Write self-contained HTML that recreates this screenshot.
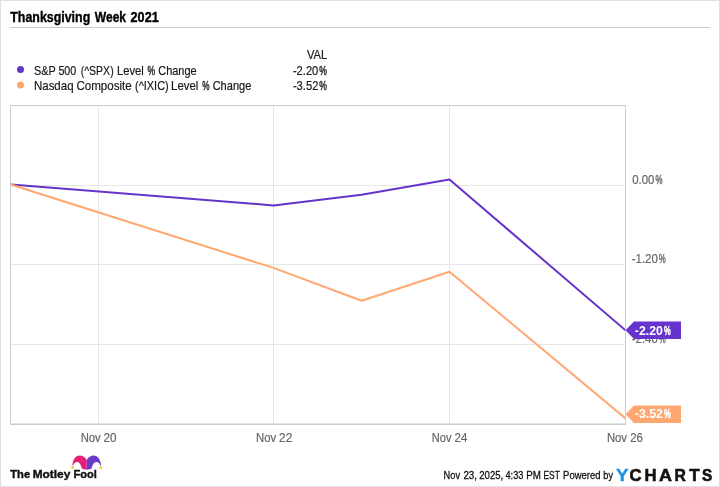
<!DOCTYPE html>
<html lang="en">
<head>
<meta charset="utf-8">
<title>Thanksgiving Week 2021</title>
<style>
html,body{margin:0;padding:0;background:#fff;}
body{width:720px;height:487px;overflow:hidden;}
svg{display:block;}
text{font-family:"Liberation Sans",sans-serif;white-space:pre;}
.ttl{font-size:15.5px;font-weight:bold;fill:#000;stroke:#000;stroke-width:0.4px;}
.t{font-size:12.4px;fill:#1a1a1a;stroke:#1a1a1a;stroke-width:0.2px;}
.ft{font-size:11.4px;fill:#111;stroke:#111;stroke-width:0.3px;}
.ax{font-size:12.4px;fill:#666;stroke:#666;stroke-width:0.2px;}
.fl{font-size:12.4px;font-weight:bold;fill:#fff;stroke:#fff;stroke-width:0;}
.mf{font-size:11.6px;font-weight:bold;fill:#111;stroke:#111;stroke-width:0.4px;}
.yc{font-size:17.25px;font-weight:bold;fill:#111;stroke:#111;stroke-width:0.6px;}
</style>
</head>
<body>
<svg width="720" height="487" viewBox="0 0 720 487">
  <rect x="0" y="0" width="720" height="487" fill="#fff"/>
  <rect x="0.5" y="0.5" width="719" height="486" fill="none" stroke="#e0e0e0" stroke-width="1"/>

  <!-- title -->
  <text class="ttl" y="21.5"><tspan x="10.26" textLength="79.97" lengthAdjust="spacingAndGlyphs">Thanksgiving</tspan> <tspan x="94.79" textLength="31.25" lengthAdjust="spacingAndGlyphs">Week</tspan> <tspan x="130.56" textLength="28.19" lengthAdjust="spacingAndGlyphs">2021</tspan></text>
  <rect x="10" y="27" width="700" height="1" fill="#ccc"/>

  <!-- legend -->
  <text class="t" y="59"><tspan x="306.95" textLength="20.30" lengthAdjust="spacingAndGlyphs">VAL</tspan></text>
  <circle cx="20.5" cy="69.5" r="3.5" fill="#6633cc"/>
  <text class="t" y="74.9"><tspan x="34.01" textLength="21.45" lengthAdjust="spacingAndGlyphs">S&amp;P</tspan> <tspan x="58.42" textLength="17.90" lengthAdjust="spacingAndGlyphs">500</tspan> <tspan x="80.70" textLength="32.95" lengthAdjust="spacingAndGlyphs">(^SPX)</tspan> <tspan x="116.93" textLength="26.82" lengthAdjust="spacingAndGlyphs">Level</tspan> <tspan x="147.42" textLength="7.66" lengthAdjust="spacingAndGlyphs" stroke-width="0.45">%</tspan> <tspan x="158.29" textLength="38.34" lengthAdjust="spacingAndGlyphs">Change</tspan></text>
  <text class="t" y="74.9"><tspan x="292.90" textLength="25.43" lengthAdjust="spacingAndGlyphs">-2.20</tspan><tspan x="319.32" textLength="7.66" lengthAdjust="spacingAndGlyphs" stroke-width="0.45">%</tspan></text>
  <circle cx="20.5" cy="85" r="3.5" fill="#ffa770"/>
  <text class="t" y="90"><tspan x="33.96" textLength="39.58" lengthAdjust="spacingAndGlyphs">Nasdaq</tspan> <tspan x="76.41" textLength="55.25" lengthAdjust="spacingAndGlyphs">Composite</tspan> <tspan x="135.02" textLength="33.66" lengthAdjust="spacingAndGlyphs">(^IXIC)</tspan> <tspan x="171.06" textLength="27.35" lengthAdjust="spacingAndGlyphs">Level</tspan> <tspan x="202.18" textLength="7.28" lengthAdjust="spacingAndGlyphs" stroke-width="0.45">%</tspan> <tspan x="212.64" textLength="38.75" lengthAdjust="spacingAndGlyphs">Change</tspan></text>
  <text class="t" y="90"><tspan x="292.90" textLength="25.56" lengthAdjust="spacingAndGlyphs">-3.52</tspan><tspan x="319.32" textLength="7.66" lengthAdjust="spacingAndGlyphs" stroke-width="0.45">%</tspan></text>

  <!-- grid -->
  <g stroke="#e6e6e6" stroke-width="1" shape-rendering="crispEdges">
    <line x1="98.5" y1="106" x2="98.5" y2="424"/>
    <line x1="273.5" y1="106" x2="273.5" y2="424"/>
    <line x1="449.5" y1="106" x2="449.5" y2="424"/>
    <line x1="11" y1="185.5" x2="625" y2="185.5"/>
    <line x1="11" y1="264.5" x2="625" y2="264.5"/>
    <line x1="11" y1="344.5" x2="625" y2="344.5"/>
  </g>

  <!-- axis labels -->
  <text class="ax" y="183.8"><tspan x="632.15" textLength="22.19" lengthAdjust="spacingAndGlyphs">0.00</tspan><tspan x="655.54" textLength="7.01" lengthAdjust="spacingAndGlyphs" stroke-width="0.45">%</tspan></text>
  <text class="ax" y="263.1"><tspan x="631.69" textLength="26.16" lengthAdjust="spacingAndGlyphs">-1.20</tspan><tspan x="658.96" textLength="6.69" lengthAdjust="spacingAndGlyphs" stroke-width="0.45">%</tspan></text>
  <text class="ax" y="342.5"><tspan x="631.69" textLength="26.16" lengthAdjust="spacingAndGlyphs">-2.40</tspan><tspan x="658.96" textLength="6.69" lengthAdjust="spacingAndGlyphs" stroke-width="0.45">%</tspan></text>
  <text class="ax" y="441.9"><tspan x="80.67" textLength="20.06" lengthAdjust="spacingAndGlyphs">Nov</tspan> <tspan x="103.51" textLength="13.10" lengthAdjust="spacingAndGlyphs">20</tspan></text>
  <text class="ax" y="441.9"><tspan x="255.97" textLength="20.17" lengthAdjust="spacingAndGlyphs">Nov</tspan> <tspan x="279.10" textLength="13.19" lengthAdjust="spacingAndGlyphs">22</tspan></text>
  <text class="ax" y="441.9"><tspan x="431.69" textLength="19.75" lengthAdjust="spacingAndGlyphs">Nov</tspan> <tspan x="454.52" textLength="12.82" lengthAdjust="spacingAndGlyphs">24</tspan></text>
  <text class="ax" y="441.9"><tspan x="606.92" textLength="20.12" lengthAdjust="spacingAndGlyphs">Nov</tspan> <tspan x="630.23" textLength="12.67" lengthAdjust="spacingAndGlyphs">26</tspan></text>

  <!-- series -->
  <clipPath id="plot"><rect x="11" y="106" width="614.5" height="318"/></clipPath>
  <g clip-path="url(#plot)" fill="none" stroke-width="2" stroke-linejoin="round">
    <polyline stroke="#6633cc" points="10.5,184.5 273.5,205.4 361.5,194.8 449.5,179.5 625.5,330.3"/>
    <polyline stroke="#ffa770" points="10.5,184.5 273.5,267.9 361.7,300.8 449.5,271.8 625.5,418.5"/>
  </g>
  <rect x="11" y="423" width="614" height="1" fill="#e2e2e2"/>
  <rect x="10.5" y="105.5" width="615" height="319" fill="none" stroke="#ccc" stroke-width="1" shape-rendering="crispEdges"/>

  <!-- flags -->
  <polygon fill="#6633cc" points="625.5,330.25 634,321.5 681,321.5 681,339 634,339"/>
  <text class="fl" y="334.75"><tspan x="634.82" textLength="28.09" lengthAdjust="spacingAndGlyphs">-2.20</tspan><tspan x="664.04" textLength="6.74" lengthAdjust="spacingAndGlyphs" stroke-width="0.45">%</tspan></text>
  <polygon fill="#ffa770" points="625.5,414.25 634,405.5 681,405.5 681,423 634,423"/>
  <text class="fl" y="418.0"><tspan x="634.82" textLength="28.07" lengthAdjust="spacingAndGlyphs">-3.52</tspan><tspan x="664.04" textLength="6.74" lengthAdjust="spacingAndGlyphs" stroke-width="0.45">%</tspan></text>

  <!-- footer: The Motley Fool -->
  <path d="M86.7,459.9 C85.2,457.3 82.6,455.6 79.6,455.6 C75.3,455.6 72.9,460 72.3,465.2 L73.2,465.2 C74,463.1 75.4,462 77.1,462 C79.8,462 80.9,465.4 81.8,468.3 C83,469.3 84.8,469.7 86.7,469.7 Z" fill="#e91e78"/>
  <path d="M86.7,459.9 C88.2,457.3 90.8,455.6 93.8,455.6 C98.1,455.6 100.5,460 101.1,465.2 L100.2,465.2 C99.4,463.1 98,462 96.3,462 C93.6,462 92.5,465.4 91.6,468.3 C90.4,469.3 88.6,469.7 86.7,469.7 Z" fill="#6e3bc6"/>
  <circle cx="72.6" cy="467.4" r="1.3" fill="#ffc020"/>
  <circle cx="100.7" cy="467.4" r="1.3" fill="#ffc020"/>
  <circle cx="97.9" cy="477.8" r="0.5" fill="#aaa"/>
  <text class="mf" y="477.9"><tspan x="10.27" textLength="19.91" lengthAdjust="spacingAndGlyphs">The</tspan> <tspan x="32.71" textLength="37.56" lengthAdjust="spacingAndGlyphs">Motley</tspan> <tspan x="73.46" textLength="23.38" lengthAdjust="spacingAndGlyphs">Fool</tspan></text>

  <!-- footer: timestamp + YCharts -->
  <text class="ft" y="478.5"><tspan x="443.59" textLength="16.49" lengthAdjust="spacingAndGlyphs">Nov</tspan> <tspan x="463.41" textLength="13.57" lengthAdjust="spacingAndGlyphs">23,</tspan> <tspan x="479.27" textLength="23.94" lengthAdjust="spacingAndGlyphs">2025,</tspan> <tspan x="505.54" textLength="17.81" lengthAdjust="spacingAndGlyphs">4:33</tspan> <tspan x="526.25" textLength="14.65" lengthAdjust="spacingAndGlyphs">PM</tspan> <tspan x="543.46" textLength="16.33" lengthAdjust="spacingAndGlyphs">EST</tspan> <tspan x="563.12" textLength="37.34" lengthAdjust="spacingAndGlyphs">Powered</tspan> <tspan x="603.31" textLength="9.66" lengthAdjust="spacingAndGlyphs">by</tspan></text>
  <text class="yc" y="480.7" style="fill:#1a8fe8;stroke:#1a8fe8;stroke-width:0.3px"><tspan x="615.93" textLength="12.52" lengthAdjust="spacingAndGlyphs">Y</tspan></text>
  <text class="yc" y="480.7"><tspan x="629.52" textLength="12.04" lengthAdjust="spacingAndGlyphs">C</tspan><tspan x="644.58" textLength="12.04" lengthAdjust="spacingAndGlyphs">H</tspan><tspan x="659.10" textLength="12.97" lengthAdjust="spacingAndGlyphs">A</tspan><tspan x="674.55" textLength="11.38" lengthAdjust="spacingAndGlyphs">R</tspan><tspan x="689.21" textLength="10.37" lengthAdjust="spacingAndGlyphs">T</tspan><tspan x="702.06" textLength="10.24" lengthAdjust="spacingAndGlyphs">S</tspan></text>
</svg>
</body>
</html>
